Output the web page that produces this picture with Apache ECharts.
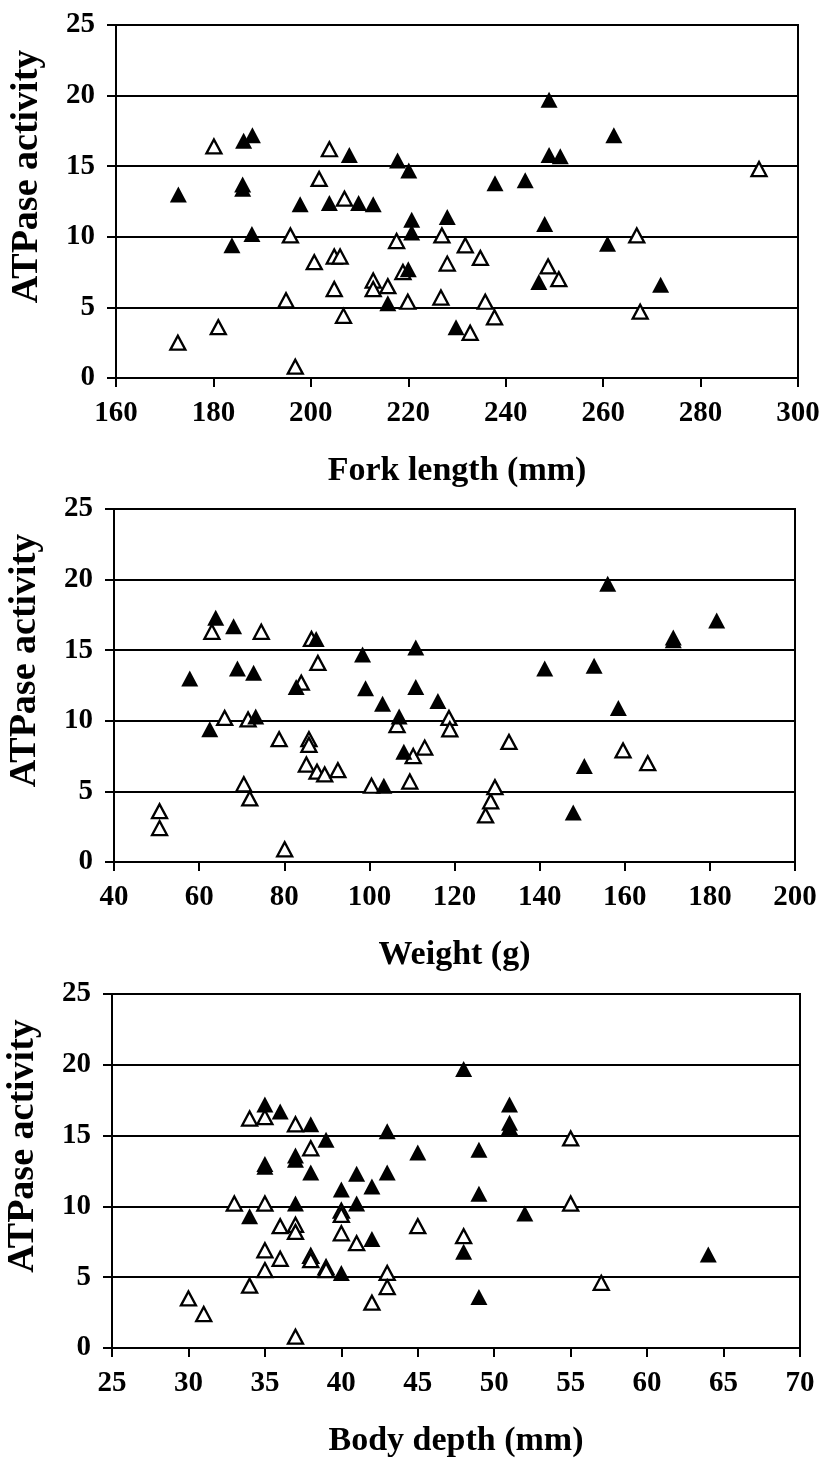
<!DOCTYPE html>
<html>
<head>
<meta charset="utf-8">
<script src="https://cdn.jsdelivr.net/npm/echarts@6/dist/echarts.min.js"></script>
<style>
  html, body { margin: 0; padding: 0; background: #ffffff; }
  #chart { width: 827px; height: 1462px; }
</style>
</head>
<body>
<div id="chart"></div>
<script>
// ATPase activity against fork length, weight and body depth.
// Filled triangles and open triangles are the two fish groups.

const yTitle = 'ATPase activity';
const xTitles = ['Fork length (mm)', 'Weight (g)', 'Body depth (mm)'];

// Fork length (mm), ATPase activity
const forkFilled = [
  [172.8, 13.0], [183.8, 9.4], [186.0, 13.7], [186.0, 13.4], [186.2, 16.8],
  [188.0, 17.2], [187.9, 10.2], [197.8, 12.3], [203.8, 12.4], [207.9, 15.8],
  [209.8, 12.4], [212.8, 12.3], [215.8, 5.3], [217.8, 15.4], [220.1, 14.7],
  [220.0, 7.7], [220.7, 11.2], [220.7, 10.3], [228.0, 11.4], [229.8, 3.6],
  [237.8, 13.8], [244.0, 14.0], [246.8, 6.8], [248.0, 10.9], [248.9, 19.7],
  [248.9, 15.8], [251.2, 15.7], [260.9, 9.5], [262.2, 17.2], [271.8, 6.6]
];
const forkOpen = [
  [172.7, 2.5], [180.1, 16.4], [181.0, 3.6], [194.9, 5.5], [195.8, 10.1],
  [196.8, 0.8], [200.7, 8.2], [201.7, 14.1], [203.8, 16.2], [204.8, 8.6],
  [206.0, 8.6], [204.8, 6.3], [206.7, 4.4], [206.9, 12.7], [212.8, 6.9],
  [212.8, 6.3], [215.8, 6.5], [217.6, 9.7], [218.9, 7.5], [219.9, 5.4],
  [226.7, 5.7], [226.9, 10.1], [228.0, 8.1], [231.7, 9.4], [232.7, 3.2],
  [234.8, 8.5], [235.8, 5.4], [237.7, 4.3], [248.7, 7.9], [250.9, 7.0],
  [266.9, 10.1], [267.6, 4.7], [292.0, 14.8]
];

// Weight (g), ATPase activity
const weightFilled = [
  [57.8, 13.0], [62.5, 9.4], [63.9, 17.3], [68.1, 16.7], [69.0, 13.7],
  [72.8, 13.4], [73.3, 10.3], [82.8, 12.4], [87.5, 15.8], [98.4, 14.7],
  [99.1, 12.3], [103.1, 11.2], [103.4, 5.4], [107.0, 10.3], [108.1, 7.8],
  [110.9, 15.2], [110.9, 12.4], [116.1, 11.4], [141.2, 13.7], [147.9, 3.5],
  [150.5, 6.8], [152.8, 13.9], [156.0, 19.7], [158.5, 10.9], [171.4, 15.9],
  [171.4, 15.7], [181.6, 17.1]
];
const weightOpen = [
  [50.7, 3.6], [50.7, 2.4], [63.0, 16.3], [66.0, 10.2], [70.5, 5.5],
  [71.5, 10.1], [71.9, 4.5], [74.6, 16.3], [78.8, 8.7], [80.1, 0.9],
  [84.0, 12.7], [85.2, 6.9], [85.8, 8.7], [85.8, 8.3], [86.4, 15.8],
  [87.7, 6.4], [87.9, 14.1], [89.5, 6.2], [92.6, 6.5], [100.5, 5.4],
  [106.5, 9.7], [109.5, 5.7], [110.3, 7.5], [113.0, 8.1], [118.7, 10.2],
  [118.9, 9.4], [127.3, 3.3], [128.5, 4.3], [129.5, 5.3], [132.8, 8.5],
  [159.6, 7.9], [165.4, 7.0]
];

// Body depth (mm), ATPase activity
const depthFilled = [
  [34, 9.3], [35, 17.2], [35, 13.0], [35, 12.8], [36, 16.7], [37, 13.6],
  [37, 13.3], [37, 10.2], [38, 15.8], [38, 12.4], [39, 14.7], [40, 11.2],
  [40, 5.3], [41, 12.3], [41, 10.2], [42, 11.4], [42, 7.7], [43, 15.3],
  [43, 12.4], [45, 13.8], [48, 19.7], [48, 6.8], [49, 14.0], [49, 10.9],
  [49, 3.6], [51, 17.2], [51, 15.9], [51, 15.6], [52, 9.5], [64, 6.6]
];
const depthOpen = [
  [30, 3.5], [31, 2.4], [33, 10.2], [34, 16.2], [34, 4.4], [35, 16.3],
  [35, 10.2], [35, 6.9], [35, 5.5], [36, 8.6], [36, 6.3], [37, 15.8],
  [37, 8.7], [37, 8.2], [37, 0.8], [38, 14.1], [38, 6.5], [38, 6.2],
  [39, 5.7], [39, 5.5], [40, 9.7], [40, 9.4], [40, 8.1], [41, 7.4],
  [42, 3.2], [43, 5.3], [43, 4.3], [45, 8.6], [48, 7.9], [55, 14.8],
  [55, 10.2], [57, 4.6]
];

// Axis ranges: [min, max, interval]
const xRanges = [[160, 300, 20], [40, 200, 20], [25, 70, 5]];
const yRange = [0, 25, 5];

const panels = [
  { filled: forkFilled, open: forkOpen },
  { filled: weightFilled, open: weightOpen },
  { filled: depthFilled, open: depthOpen }
];

// Plot-area boxes for the three stacked panels
const gridBoxes = [
  { left: 116, top: 25, width: 682, height: 353 },
  { left: 114, top: 509, width: 681, height: 353 },
  { left: 112, top: 994, width: 688, height: 354 }
];

const FONT = '"Liberation Serif", "Times New Roman", serif';
const INK = '#000000';

const grids = [], xAxes = [], yAxes = [], series = [];

panels.forEach((p, i) => {
  const g = gridBoxes[i];
  grids.push({
    left: g.left, top: g.top, width: g.width, height: g.height,
    show: true, borderColor: INK, borderWidth: 2,
    backgroundColor: 'transparent', containLabel: false,
    outerBoundsMode: 'none'
  });
  xAxes.push({
    gridIndex: i, type: 'value',
    min: xRanges[i][0], max: xRanges[i][1], interval: xRanges[i][2],
    name: xTitles[i], nameLocation: 'middle', nameGap: 76,
    nameTextStyle: { fontFamily: FONT, fontWeight: 'bold', fontSize: 34, color: INK },
    axisLine: { show: true, onZero: false, lineStyle: { color: INK, width: 2 } },
    axisTick: { show: true, inside: false, length: 9, lineStyle: { color: INK, width: 2 } },
    axisLabel: { margin: 21, fontFamily: FONT, fontWeight: 'bold', fontSize: 29, color: INK,
                 showMinLabel: true, showMaxLabel: true },
    splitLine: { show: false }
  });
  yAxes.push({
    gridIndex: i, type: 'value',
    min: yRange[0], max: yRange[1], interval: yRange[2],
    name: yTitle, nameLocation: 'middle', nameGap: 70,
    nameTextStyle: { fontFamily: FONT, fontWeight: 'bold', fontSize: 38, color: INK,
                     padding: [0, 0, 0, 50] },
    axisLine: { show: true, lineStyle: { color: INK, width: 2 } },
    axisTick: { show: true, inside: false, length: 9, lineStyle: { color: INK, width: 2 } },
    axisLabel: { margin: 21, fontFamily: FONT, fontWeight: 'bold', fontSize: 29, color: INK },
    splitLine: { show: true, lineStyle: { color: INK, width: 2 } }
  });
  series.push({
    type: 'scatter', xAxisIndex: i, yAxisIndex: i,
    symbol: 'triangle', symbolSize: [15, 14],
    itemStyle: { color: '#ffffff', borderColor: INK, borderWidth: 2.3, opacity: 1 },
    data: p.open, z: 3
  });
  series.push({
    type: 'scatter', xAxisIndex: i, yAxisIndex: i,
    symbol: 'triangle', symbolSize: [17, 16],
    itemStyle: { color: INK, opacity: 1 },
    data: p.filled, z: 4
  });
});

const chart = echarts.init(document.getElementById('chart'), null, { renderer: 'canvas' });
chart.setOption({
  backgroundColor: '#ffffff',
  animation: false,
  grid: grids,
  xAxis: xAxes,
  yAxis: yAxes,
  series: series
});
</script>
</body>
</html>
